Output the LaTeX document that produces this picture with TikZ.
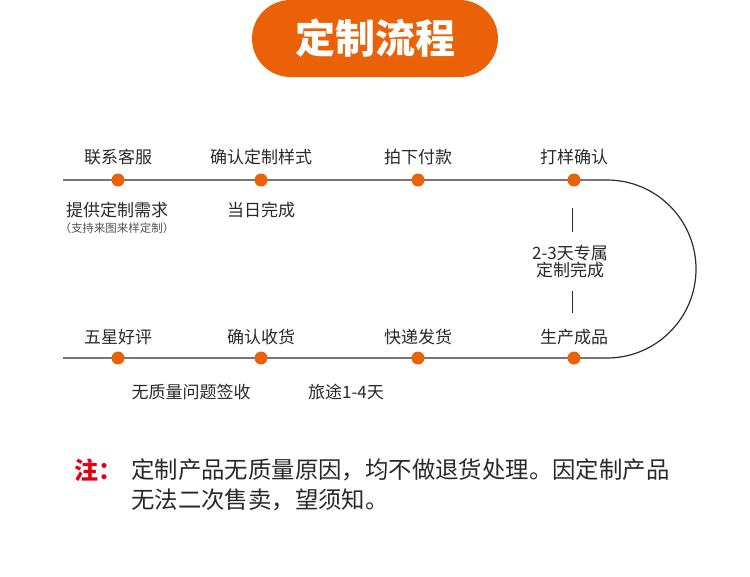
\documentclass[tikz,border=0pt]{standalone}
\usepackage{fontspec}
\setmainfont{Noto Sans CJK SC}
\definecolor{org}{RGB}{234,97,8}
\definecolor{ln}{RGB}{45,45,45}
\definecolor{txt}{RGB}{40,40,40}
\definecolor{notered}{RGB}{228,0,18}
\begin{document}
\begin{tikzpicture}[x=1pt,y=-1pt,
  lbl/.style={font=\fontsize{17}{20}\selectfont, text=txt, inner sep=0},
  sub/.style={font=\fontsize{17}{20}\selectfont, text=txt, inner sep=0},
  tiny/.style={font=\fontsize{11.5}{13}\selectfont, text=txt!80, inner sep=0},
  dotn/.style={circle, fill=org, minimum size=13pt, inner sep=0},
  note/.style={font=\fontsize{23.4}{28}\selectfont, text=txt, inner sep=0, anchor=west},
  tline/.style={draw=ln, line width=1.2pt}]
\useasboundingbox (0,0) rectangle (750,576);
% title
\node[fill=org, rounded corners=38.5pt, minimum width=246pt, minimum height=77pt, inner sep=0,
  font=\fontsize{40}{44}\selectfont\bfseries, text=white] (title) at (375,38.5) {定制流程};
% timeline
\coordinate (s1) at (63,180);
\coordinate (e1) at (607,180);
\coordinate (s2) at (63,358);
\draw[tline] (s1) -- (e1) arc (-90:90:89) -- (s2);
% dots
\node[dotn] (t1) at (118,180) {};
\node[dotn] (t2) at (261,180) {};
\node[dotn] (t3) at (418,180) {};
\node[dotn] (t4) at (574,180) {};
\node[dotn] (b1) at (118,358) {};
\node[dotn] (b2) at (261,358) {};
\node[dotn] (b3) at (418,358) {};
\node[dotn] (b4) at (574,358) {};
% top labels
\node[lbl] (l1) at (118,157) {联系客服};
\node[lbl] (l2) at (261,157) {确认定制样式};
\node[lbl] (l3) at (418,157) {拍下付款};
\node[lbl] (l4) at (574,157) {打样确认};
\node[sub] (u1) at (117,210) {提供定制需求};
\node[tiny] (u1b) at (117,228) {（支持来图来样定制）};
\node[sub] (u2) at (261,210) {当日完成};
% right side
\coordinate (v1a) at (572,208);
\coordinate (v1b) at (572,232);
\coordinate (v2a) at (572,291);
\coordinate (v2b) at (572,313);
\draw[draw=ln, line width=1pt] (v1a) -- (v1b);
\draw[draw=ln, line width=1pt] (v2a) -- (v2b);
\node[sub, align=center, font=\fontsize{17}{17}\selectfont] (mid) at (570,262) {2-3天专属\\定制完成};
% bottom labels
\node[lbl] (m1) at (118,337) {五星好评};
\node[lbl] (m2) at (261,337) {确认收货};
\node[lbl] (m3) at (418,337) {快递发货};
\node[lbl] (m4) at (574,337) {生产成品};
\node[sub] (w1) at (191,392) {无质量问题签收};
\node[sub] (w2) at (346,392) {旅途1-4天};
% note
\node[inner sep=0, anchor=west, font=\fontsize{24}{28}\selectfont\bfseries, text=notered] (zhu) at (74,470) {注：};
\node[note] (n1) at (131,470) {定制产品无质量原因，均不做退货处理。因定制产品};
\node[note] (n2) at (131,500) {无法二次售卖，望须知。};
\end{tikzpicture}
\end{document}
